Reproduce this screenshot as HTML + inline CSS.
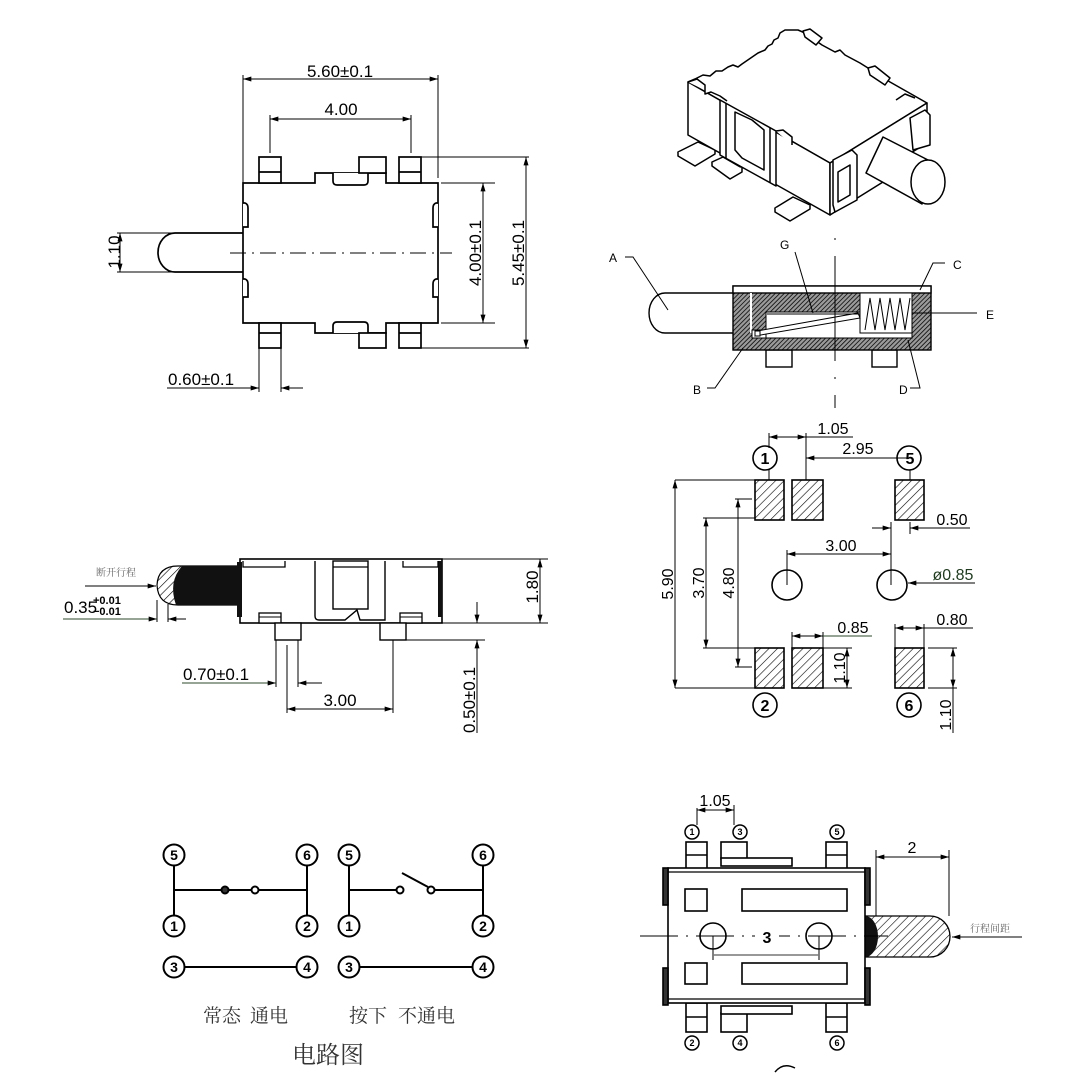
<!DOCTYPE html>
<html><head><meta charset="utf-8"><style>
html,body{margin:0;padding:0;background:#fff;}
svg{display:block;}
text{font-family:"Liberation Sans","Noto Sans CJK SC",sans-serif;}
.cjk{font-family:"Liberation Serif","Noto Serif CJK SC",serif;}
</style></head><body>
<svg width="1081" height="1091" viewBox="0 0 1081 1091" xmlns="http://www.w3.org/2000/svg">
<defs>
<marker id="ar" viewBox="0 0 10 6" refX="10" refY="3" markerWidth="9" markerHeight="5" orient="auto-start-reverse" markerUnits="userSpaceOnUse"><path d="M0,0 L10,3 L0,6 z" fill="#000"/></marker>
<pattern id="h" patternUnits="userSpaceOnUse" width="6" height="6" patternTransform="rotate(45)"><rect width="6" height="6" fill="#fff"/><line x1="0" y1="0" x2="0" y2="6" stroke="#000" stroke-width="1.2"/></pattern>
<pattern id="hd" patternUnits="userSpaceOnUse" width="3.2" height="3.2" patternTransform="rotate(45)"><rect width="3.2" height="3.2" fill="#9a9a9a"/><line x1="0" y1="0" x2="0" y2="3.2" stroke="#111" stroke-width="1.7"/></pattern>
</defs>

<!-- ============ TOP-LEFT VIEW ============ -->
<g fill="none" stroke="#000" stroke-width="1">
 <line x1="243" y1="75" x2="243" y2="183"/>
 <line x1="438" y1="75" x2="438" y2="178"/>
 <line x1="243" y1="79" x2="438" y2="79" marker-start="url(#ar)" marker-end="url(#ar)"/>
 <line x1="270" y1="115" x2="270" y2="153"/>
 <line x1="411" y1="115" x2="411" y2="153"/>
 <line x1="270" y1="119" x2="411" y2="119" marker-start="url(#ar)" marker-end="url(#ar)"/>
 <line x1="117" y1="233" x2="175" y2="233"/>
 <line x1="117" y1="272" x2="175" y2="272"/>
 <line x1="120" y1="233" x2="120" y2="272" marker-start="url(#ar)" marker-end="url(#ar)"/>
 <line x1="441" y1="183" x2="495" y2="183"/>
 <line x1="441" y1="323" x2="495" y2="323"/>
 <line x1="483" y1="183" x2="483" y2="323" marker-start="url(#ar)" marker-end="url(#ar)"/>
 <line x1="421" y1="157" x2="529" y2="157"/>
 <line x1="421" y1="348" x2="529" y2="348"/>
 <line x1="526" y1="157" x2="526" y2="348" marker-start="url(#ar)" marker-end="url(#ar)"/>
 <line x1="259" y1="348" x2="259" y2="392"/>
 <line x1="281" y1="348" x2="281" y2="392"/>
 <line x1="167" y1="388" x2="259" y2="388" marker-end="url(#ar)"/>
 <line x1="303" y1="388" x2="281" y2="388" marker-end="url(#ar)"/>
</g>
<g fill="#fff" stroke="#000" stroke-width="1.7">
 <path d="M243,233 L175,233 A17,19.5 0 0 0 175,272 L243,272"/>
 <path d="M243,183 L315,183 L315,173 L386,173 L386,183 L438,183 L438,323 L386,323 L386,333 L315,333 L315,323 L243,323 Z"/>
 <path d="M333,173 L333,181 Q333,185 337,185 L364,185 Q368,185 368,181 L368,173"/>
 <path d="M333,333 L333,326 Q333,322 337,322 L364,322 Q368,322 368,326 L368,333"/>
 <rect x="259" y="157" width="22" height="26"/><line x1="259" y1="172" x2="281" y2="172"/>
 <rect x="399" y="157" width="22" height="26"/><line x1="399" y1="172" x2="421" y2="172"/>
 <rect x="359" y="157" width="27" height="16"/>
 <rect x="259" y="323" width="22" height="25"/><line x1="259" y1="333" x2="281" y2="333"/>
 <rect x="399" y="323" width="22" height="25"/><line x1="399" y1="333" x2="421" y2="333"/>
 <rect x="359" y="333" width="27" height="15"/>
 <path d="M243,203 L245,203 Q248,204 248,208 L248,227 L243,227"/>
 <path d="M243,279 L245,279 Q248,280 248,284 L248,297 L243,297"/>
 <path d="M438,203 L436,203 Q433,204 433,208 L433,227 L438,227"/>
 <path d="M438,279 L436,279 Q433,280 433,284 L433,297 L438,297"/>
</g>
<line x1="230" y1="253" x2="452" y2="253" stroke="#000" stroke-width="1" stroke-dasharray="16,6,2,6"/>
<g font-size="17" fill="#000">
 <text x="340" y="77" text-anchor="middle">5.60±0.1</text>
 <text x="341" y="115" text-anchor="middle">4.00</text>
 <text transform="translate(120,252) rotate(-90)" text-anchor="middle">1.10</text>
 <text transform="translate(481,253) rotate(-90)" text-anchor="middle">4.00±0.1</text>
 <text transform="translate(524,253) rotate(-90)" text-anchor="middle">5.45±0.1</text>
 <text x="168" y="385">0.60±0.1</text>
</g>

<!-- ============ ISO VIEW ============ -->
<g fill="#fff" stroke="#000" stroke-width="1.5" stroke-linejoin="round">
 <polygon points="678,152 698,142 715,150 695,162"/>
 <polyline points="678,152 678,156 695,166 715,154 715,150"/>
 <polygon points="712,162 723,157 742,168 730,175"/>
 <polyline points="712,162 712,166 730,179 742,172 742,168"/>
 <polygon points="775,208 793,197 810,205 790,217"/>
 <polyline points="775,208 775,212 790,221 810,209 810,205"/>
 <polygon points="688,82 695,79 703,75 710,76 716,71 722,71 728,67 733,65 738,67 742,64 758,53 765,50 768,46 772,44 774,40 778,38 780,33 785,30 798,30 805,33 822,45 835,52 840,50 845,55 860,63 868,68 890,82 927,103 830,163"/>
 <polygon points="688,82 830,163 830,215 688,135"/>
 <polygon points="830,163 927,103 927,143 883,170 883,182 830,215"/>
 <polygon points="803,31 810,29 822,38 816,45 805,37"/>
 <polygon points="868,68 875,66 890,78 885,85 870,75"/>
 <polyline points="688,82 697,79 705,85 705,94 711,92 720,96 727,101"/>
 <polygon points="720,100 776,131 776,186 720,155"/>
 <polyline points="726,103 726,158"/>
 <polygon points="735,112 752,120 764,130 764,170 742,158 735,150"/>
 <polyline points="770,128 770,183"/>
 <polyline points="776,131 783,130 792,137 792,145"/>
 <polygon points="833,160 852,150 857,155 857,200 835,212 833,205"/>
 <polygon points="838,172 850,165 850,195 838,202"/>
 <polygon points="910,118 925,110 930,115 930,145 913,150"/>
 <polyline points="896,100 905,94 915,98"/>
 <path d="M883,137 L928,160 L922,204 L866,173 Z"/>
 <ellipse cx="928" cy="182" rx="17" ry="22"/>
</g>

<!-- ============ SECTION VIEW ============ -->
<g stroke="#000" stroke-width="1.4">
 <path d="M733,293 L665,293 A16,20 0 0 0 665,333 L733,333" fill="#fff"/>
 <rect x="766" y="350" width="26" height="17" fill="#fff"/>
 <rect x="872" y="350" width="25" height="17" fill="#fff"/>
 <rect x="733" y="286" width="198" height="64" fill="url(#hd)"/>
 <rect x="733" y="286" width="198" height="7" fill="#fff"/>
 <rect x="750" y="293" width="2" height="40" fill="#fff" stroke="none"/>
 <rect x="766" y="312" width="146" height="26" fill="#fff" stroke-width="1"/>
 <rect x="752" y="330" width="14" height="8" fill="#fff" stroke-width="1"/>
 <rect x="860" y="293" width="52" height="40" fill="#fff" stroke-width="1"/>
 <polyline points="865,330 870,298 875,330 880,298 885,330 890,298 895,330 900,298 905,330 910,298" fill="none" stroke-width="1"/>
 <polygon points="755,336 757,331 858,313 860,318" fill="#fff" stroke-width="1"/>
 <line x1="767" y1="314" x2="860" y2="314" stroke-width="1"/>
 <rect x="755" y="331" width="5" height="5" fill="#fff" stroke-width="1"/>
</g>
<line x1="835" y1="238" x2="835" y2="408" stroke="#000" stroke-width="1" stroke-dasharray="2,16,105,16"/>
<g fill="none" stroke="#000" stroke-width="1">
 <polyline points="625,257 633,257 668,310"/>
 <polyline points="795,252 813,313"/>
 <polyline points="945,263 933,263 920,290"/>
 <line x1="912" y1="313" x2="977" y2="313"/>
 <polyline points="707,388 715,388 743,348"/>
 <polyline points="910,388 920,388 908,340"/>
</g>
<g font-size="12" fill="#000">
 <text x="609" y="262">A</text>
 <text x="780" y="249">G</text>
 <text x="953" y="269">C</text>
 <text x="986" y="319">E</text>
 <text x="693" y="394">B</text>
 <text x="899" y="394">D</text>
</g>

<!-- ============ SIDE VIEW ============ -->
<g fill="none" stroke="#000" stroke-width="1">
 <line x1="442" y1="559" x2="548" y2="559"/>
 <line x1="442" y1="623" x2="548" y2="623"/>
 <line x1="540" y1="559" x2="540" y2="623" marker-start="url(#ar)" marker-end="url(#ar)"/>
 <line x1="406" y1="640" x2="485" y2="640"/>
 <line x1="477" y1="602" x2="477" y2="623" marker-end="url(#ar)"/>
 <line x1="477" y1="733" x2="477" y2="640" marker-end="url(#ar)"/>
 <line x1="276" y1="640" x2="276" y2="687"/>
 <line x1="298" y1="640" x2="298" y2="687"/>
 <line x1="182" y1="683" x2="276" y2="683" marker-end="url(#ar)" stroke="#2b4a2b"/>
 <line x1="322" y1="683" x2="298" y2="683" marker-end="url(#ar)"/>
 <line x1="287" y1="645" x2="287" y2="713"/>
 <line x1="393" y1="640" x2="393" y2="713"/>
 <line x1="287" y1="709" x2="393" y2="709" marker-start="url(#ar)" marker-end="url(#ar)"/>
 <line x1="85" y1="586" x2="156" y2="586" marker-end="url(#ar)"/>
 <line x1="157" y1="600" x2="157" y2="622"/>
 <line x1="168" y1="604" x2="168" y2="622"/>
 <line x1="63" y1="619" x2="157" y2="619" marker-end="url(#ar)" stroke="#2b4a2b"/>
 <line x1="186" y1="619" x2="168" y2="619" marker-end="url(#ar)"/>
</g>
<g stroke="#000" stroke-width="1.6">
 <path d="M240,566 L178,566 Q158,566 157,585 Q158,605 178,605 L240,605 Z" fill="url(#h)" stroke-width="1.2"/>
 <path d="M241,566 L182,566 Q168,582 176,605 L241,605 Z" fill="#111" stroke="none"/>
 <rect x="240" y="559" width="202" height="64" fill="#fff"/>
 <rect x="237" y="562" width="5" height="55" fill="#111" stroke="none"/>
 <rect x="438" y="561" width="4" height="56" fill="#111" stroke="none"/>
 <polyline points="243,561 243,567 285,567 285,561" fill="none" stroke-width="1.3"/>
 <polyline points="403,561 403,567 438,567 438,561" fill="none" stroke-width="1.3"/>
 <path d="M315,561 L315,616 Q315,620 319,620 L345,620 L357,610 L360,620 L385,620 L385,561" fill="none" stroke-width="1.4"/>
 <rect x="333" y="561" width="35" height="48" fill="#fff" stroke-width="1.4"/>
 <line x1="333" y1="567" x2="368" y2="567" stroke-width="1.2"/>
 <rect x="259" y="613" width="22" height="10" fill="#fff" stroke-width="1.3"/>
 <line x1="259" y1="617" x2="281" y2="617" stroke-width="1"/>
 <rect x="400" y="613" width="22" height="10" fill="#fff" stroke-width="1.3"/>
 <line x1="400" y1="617" x2="422" y2="617" stroke-width="1"/>
 <rect x="275" y="623" width="26" height="17" fill="#fff" stroke-width="1.4"/>
 <rect x="380" y="623" width="26" height="17" fill="#fff" stroke-width="1.4"/>
</g>
<g font-size="17" fill="#000">
 <text transform="translate(538,587) rotate(-90)" text-anchor="middle">1.80</text>
 <text transform="translate(475,700) rotate(-90)" text-anchor="middle">0.50±0.1</text>
 <text x="183" y="680">0.70±0.1</text>
 <text x="340" y="706" text-anchor="middle">3.00</text>
 <text x="64" y="613">0.35</text>
 <text x="93" y="604" font-size="11" font-weight="bold">+0.01</text>
 <text x="93" y="615" font-size="11" font-weight="bold">−0.01</text>
 <text x="96" y="576" font-size="10" fill="#666" class="cjk">断开行程</text>
</g>

<!-- ============ PCB LAYOUT ============ -->
<g fill="url(#h)" stroke="#000" stroke-width="1.6">
 <rect x="755" y="480" width="29" height="40"/>
 <rect x="792" y="480" width="31" height="40"/>
 <rect x="895" y="480" width="29" height="40"/>
 <rect x="755" y="648" width="29" height="40"/>
 <rect x="792" y="648" width="31" height="40"/>
 <rect x="895" y="648" width="29" height="40"/>
</g>
<g fill="#fff" stroke="#000" stroke-width="1.6">
 <circle cx="787" cy="585" r="15"/>
 <circle cx="892" cy="585" r="15"/>
 <circle cx="765" cy="458" r="12"/>
 <circle cx="909" cy="458" r="12"/>
 <circle cx="765" cy="705" r="12"/>
 <circle cx="909" cy="705" r="12"/>
</g>
<g fill="none" stroke="#000" stroke-width="1">
 <line x1="769" y1="433" x2="769" y2="448"/>
 <line x1="769" y1="469" x2="769" y2="480"/>
 <line x1="806" y1="433" x2="806" y2="480"/>
 <line x1="769" y1="437" x2="806" y2="437" marker-start="url(#ar)" marker-end="url(#ar)"/>
 <line x1="806" y1="437" x2="853" y2="437"/>
 <line x1="910" y1="458" x2="806" y2="458" marker-end="url(#ar)"/>
 <line x1="910" y1="470" x2="910" y2="480"/>
 <line x1="675" y1="480" x2="755" y2="480"/>
 <line x1="675" y1="688" x2="755" y2="688"/>
 <line x1="675" y1="480" x2="675" y2="688" marker-start="url(#ar)" marker-end="url(#ar)"/>
 <line x1="703" y1="518" x2="755" y2="518"/>
 <line x1="703" y1="648" x2="755" y2="648"/>
 <line x1="706" y1="518" x2="706" y2="648" marker-start="url(#ar)" marker-end="url(#ar)"/>
 <line x1="735" y1="499" x2="752" y2="499"/>
 <line x1="735" y1="667" x2="752" y2="667"/>
 <line x1="738" y1="499" x2="738" y2="667" marker-start="url(#ar)" marker-end="url(#ar)"/>
 <line x1="872" y1="528" x2="891" y2="528" marker-end="url(#ar)"/>
 <line x1="891" y1="522" x2="891" y2="585"/>
 <line x1="970" y1="528" x2="910" y2="528" marker-end="url(#ar)"/>
 <line x1="910" y1="522" x2="910" y2="534"/>
 <line x1="787" y1="550" x2="787" y2="585"/>
 <line x1="787" y1="554" x2="891" y2="554" marker-start="url(#ar)" marker-end="url(#ar)"/>
 <line x1="975" y1="583" x2="908" y2="583" marker-end="url(#ar)"/>
 <line x1="792" y1="632" x2="792" y2="648"/>
 <line x1="823" y1="632" x2="823" y2="648"/>
 <line x1="792" y1="636" x2="823" y2="636" marker-start="url(#ar)" marker-end="url(#ar)"/>
 <line x1="823" y1="636" x2="872" y2="636" stroke="#2b4a2b"/>
 <line x1="823" y1="648" x2="852" y2="648"/>
 <line x1="823" y1="688" x2="852" y2="688"/>
 <line x1="847" y1="648" x2="847" y2="688" marker-start="url(#ar)" marker-end="url(#ar)"/>
 <line x1="895" y1="624" x2="895" y2="648"/>
 <line x1="924" y1="624" x2="924" y2="648"/>
 <line x1="895" y1="628" x2="924" y2="628" marker-start="url(#ar)" marker-end="url(#ar)"/>
 <line x1="924" y1="628" x2="973" y2="628"/>
 <line x1="928" y1="648" x2="957" y2="648"/>
 <line x1="928" y1="688" x2="957" y2="688"/>
 <line x1="953" y1="648" x2="953" y2="688" marker-start="url(#ar)" marker-end="url(#ar)"/>
 <line x1="953" y1="688" x2="953" y2="733"/>
</g>
<g font-size="16" fill="#000">
 <text x="833" y="434" text-anchor="middle">1.05</text>
 <text x="858" y="454" text-anchor="middle">2.95</text>
 <text x="952" y="525" text-anchor="middle">0.50</text>
 <text x="841" y="551" text-anchor="middle">3.00</text>
 <text x="953" y="580" text-anchor="middle" fill="#1f3a1f">ø0.85</text>
 <text x="853" y="633" text-anchor="middle">0.85</text>
 <text x="952" y="625" text-anchor="middle">0.80</text>
 <text transform="translate(673,584) rotate(-90)" text-anchor="middle">5.90</text>
 <text transform="translate(704,583) rotate(-90)" text-anchor="middle">3.70</text>
 <text transform="translate(734,583) rotate(-90)" text-anchor="middle">4.80</text>
 <text transform="translate(845,668) rotate(-90)" text-anchor="middle">1.10</text>
 <text transform="translate(951,715) rotate(-90)" text-anchor="middle">1.10</text>
</g>
<g font-size="16" font-weight="bold" fill="#000" text-anchor="middle">
 <text x="765" y="464">1</text>
 <text x="910" y="464">5</text>
 <text x="765" y="711">2</text>
 <text x="909" y="711">6</text>
</g>

<!-- ============ CIRCUIT ============ -->
<g fill="none" stroke="#000" stroke-width="2">
 <line x1="174" y1="865" x2="174" y2="916"/>
 <line x1="174" y1="890" x2="307" y2="890"/>
 <line x1="307" y1="865" x2="307" y2="916"/>
 <line x1="184" y1="967" x2="297" y2="967"/>
 <line x1="349" y1="865" x2="349" y2="916"/>
 <line x1="349" y1="890" x2="397" y2="890"/>
 <line x1="402" y1="873" x2="428" y2="887"/>
 <line x1="434" y1="890" x2="483" y2="890"/>
 <line x1="483" y1="865" x2="483" y2="916"/>
 <line x1="359" y1="967" x2="473" y2="967"/>
</g>
<g fill="#fff" stroke="#000" stroke-width="2">
 <circle cx="174" cy="855" r="10.5"/><circle cx="174" cy="926" r="10.5"/>
 <circle cx="307" cy="855" r="10.5"/><circle cx="307" cy="926" r="10.5"/>
 <circle cx="174" cy="967" r="10.5"/><circle cx="307" cy="967" r="10.5"/>
 <circle cx="349" cy="855" r="10.5"/><circle cx="349" cy="926" r="10.5"/>
 <circle cx="483" cy="855" r="10.5"/><circle cx="483" cy="926" r="10.5"/>
 <circle cx="349" cy="967" r="10.5"/><circle cx="483" cy="967" r="10.5"/>
 <circle cx="225" cy="890" r="3.5" fill="#333"/>
 <circle cx="255" cy="890" r="3.5"/>
 <circle cx="400" cy="890" r="3.5"/>
 <circle cx="431" cy="890" r="3.5"/>
</g>
<g font-size="14" font-weight="bold" fill="#000" text-anchor="middle">
 <text x="174" y="860">5</text><text x="174" y="931">1</text>
 <text x="307" y="860">6</text><text x="307" y="931">2</text>
 <text x="174" y="972">3</text><text x="307" y="972">4</text>
 <text x="349" y="860">5</text><text x="349" y="931">1</text>
 <text x="483" y="860">6</text><text x="483" y="931">2</text>
 <text x="349" y="972">3</text><text x="483" y="972">4</text>
</g>
<g class="cjk" fill="#333">
 <text x="203" y="1022" font-size="19" class="cjk">常态</text>
 <text x="250" y="1022" font-size="19" class="cjk">通电</text>
 <text x="349" y="1022" font-size="19" class="cjk">按下</text>
 <text x="398" y="1022" font-size="19" class="cjk">不通电</text>
 <text x="292" y="1063" font-size="24" class="cjk">电路图</text>
</g>

<!-- ============ BOTTOM-RIGHT VIEW ============ -->
<g fill="none" stroke="#000" stroke-width="1">
 <line x1="697" y1="808" x2="697" y2="825"/>
 <line x1="734" y1="805" x2="734" y2="825"/>
 <line x1="697" y1="810" x2="734" y2="810" marker-start="url(#ar)" marker-end="url(#ar)"/>
 <line x1="876" y1="850" x2="876" y2="916"/>
 <line x1="949" y1="850" x2="949" y2="916"/>
 <line x1="876" y1="857" x2="949" y2="857" marker-start="url(#ar)" marker-end="url(#ar)"/>
 <line x1="1022" y1="937" x2="952" y2="937" marker-end="url(#ar)"/>
</g>
<g stroke="#000" stroke-width="1.6" fill="#fff">
 <path d="M865,916 L930,916 A20,20.5 0 0 1 930,957 L865,957 Z" fill="url(#h)" stroke-width="1.3"/>
 <path d="M865,916 A13,20.5 0 0 1 865,957 Z" fill="#111" stroke="none"/>
 <rect x="686" y="842" width="21" height="30"/><line x1="686" y1="855" x2="707" y2="855"/>
 <rect x="721" y="842" width="26" height="17"/>
 <rect x="721" y="858" width="71" height="8"/>
 <rect x="826" y="842" width="21" height="30"/><line x1="826" y1="855" x2="847" y2="855"/>
 <rect x="686" y="1003" width="21" height="29"/><line x1="686" y1="1017" x2="707" y2="1017"/>
 <rect x="721" y="1013" width="26" height="19"/>
 <rect x="721" y="1006" width="71" height="8"/>
 <rect x="826" y="1003" width="21" height="29"/><line x1="826" y1="1017" x2="847" y2="1017"/>
 <rect x="668" y="868" width="197" height="135"/>
 <line x1="668" y1="872" x2="865" y2="872" stroke-width="1.2"/>
 <line x1="668" y1="999" x2="865" y2="999" stroke-width="1.2"/>
 <rect x="663" y="868" width="5" height="37" fill="#333"/>
 <rect x="663" y="968" width="5" height="37" fill="#333"/>
 <rect x="865" y="868" width="5" height="37" fill="#333"/>
 <rect x="865" y="968" width="5" height="37" fill="#333"/>
 <rect x="685" y="889" width="22" height="22"/>
 <rect x="685" y="963" width="22" height="21"/>
 <rect x="742" y="889" width="105" height="22"/>
 <rect x="742" y="963" width="105" height="21"/>
 <circle cx="713" cy="936" r="13"/>
 <circle cx="819" cy="936" r="13"/>
</g>
<g fill="none" stroke="#000" stroke-width="1">
 <line x1="640" y1="936" x2="888" y2="936" stroke-dasharray="38,8,2,8"/>
 <line x1="713" y1="936" x2="713" y2="960"/>
 <line x1="819" y1="936" x2="819" y2="960"/>
 <line x1="713" y1="955" x2="819" y2="955" stroke="#777" stroke-width="1.5"/>
 <path d="M775,1072 Q783,1062 795,1068" stroke-width="1.5"/>
</g>
<rect x="755" y="929" width="24" height="16" fill="#fff"/>
<text x="767" y="943" font-size="16" font-weight="bold" text-anchor="middle">3</text>
<g fill="#fff" stroke="#000" stroke-width="1.5">
 <circle cx="692" cy="832" r="7"/><circle cx="740" cy="832" r="7"/><circle cx="837" cy="832" r="7"/>
 <circle cx="692" cy="1043" r="7"/><circle cx="740" cy="1043" r="7"/><circle cx="837" cy="1043" r="7"/>
</g>
<g font-size="9" font-weight="bold" fill="#000" text-anchor="middle">
 <text x="692" y="835">1</text><text x="740" y="835">3</text><text x="837" y="835">5</text>
 <text x="692" y="1046">2</text><text x="740" y="1046">4</text><text x="837" y="1046">6</text>
</g>
<text x="715" y="806" font-size="16" text-anchor="middle">1.05</text>
<text x="912" y="853" font-size="16" text-anchor="middle">2</text>
<text x="970" y="932" font-size="10" fill="#666" class="cjk">行程间距</text>
</svg>
</body></html>
